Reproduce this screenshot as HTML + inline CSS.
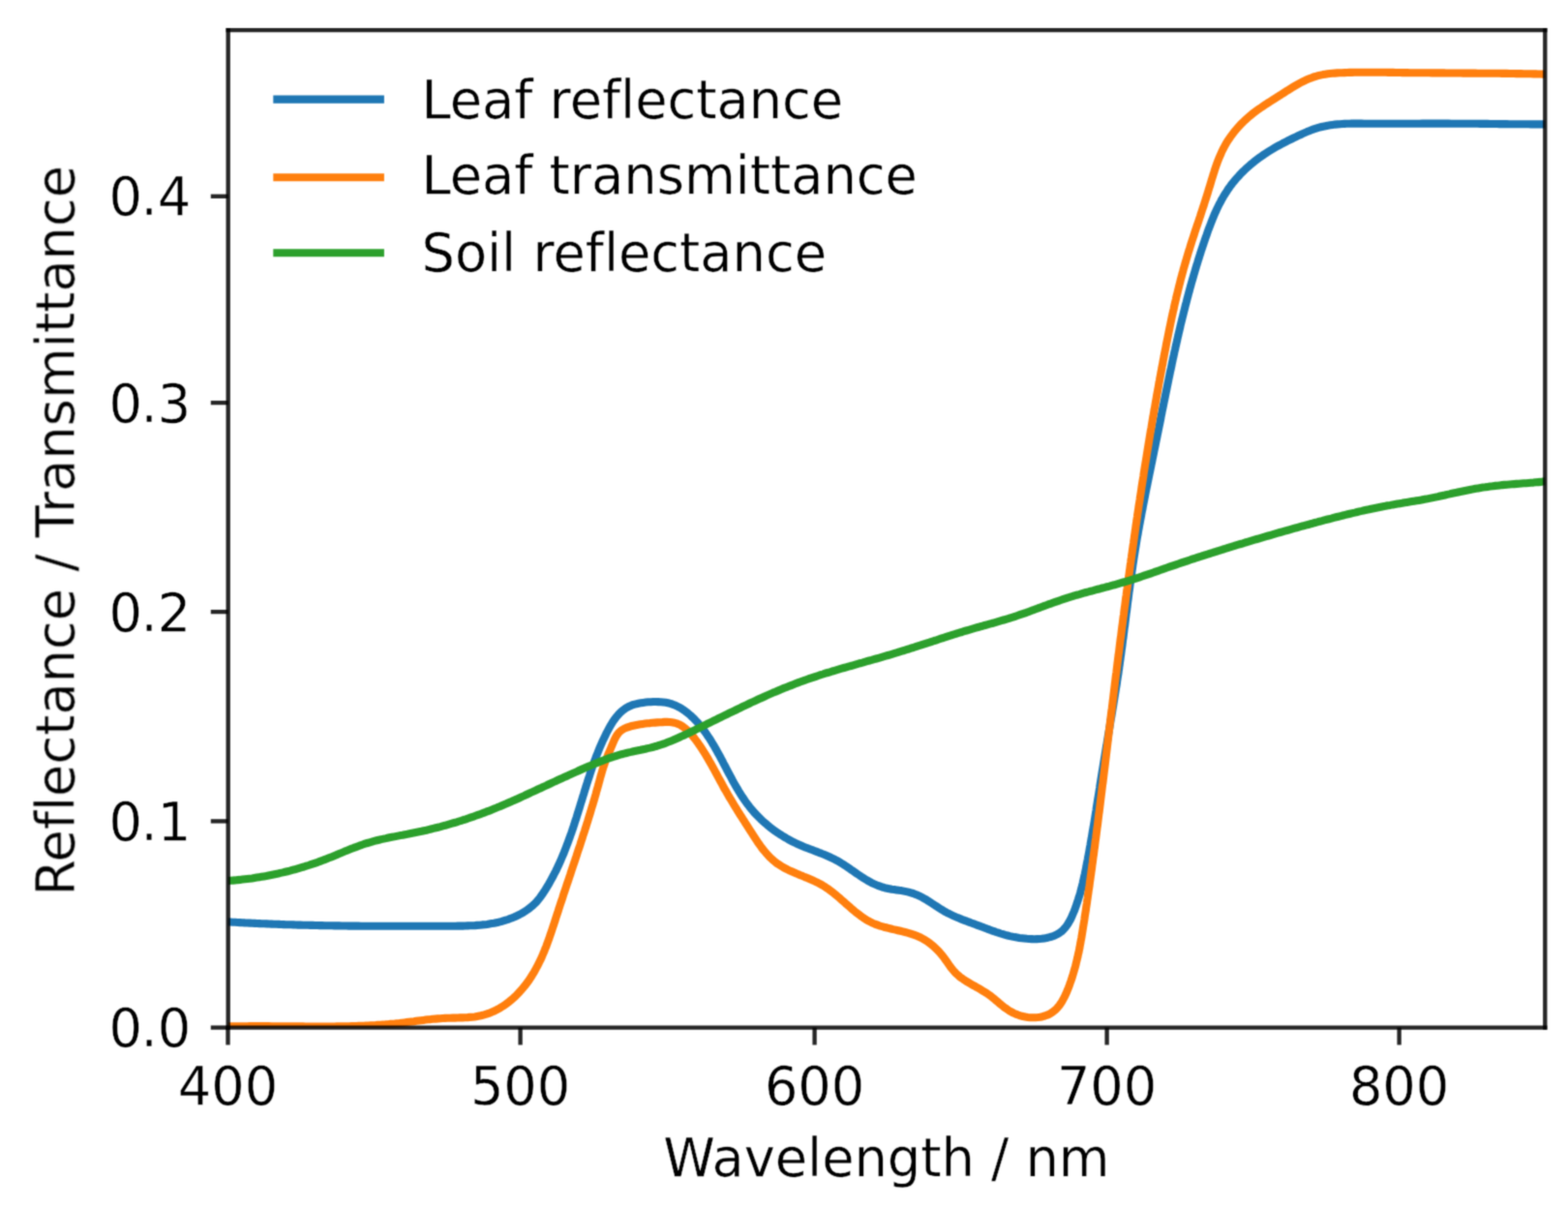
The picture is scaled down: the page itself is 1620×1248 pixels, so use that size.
<!DOCTYPE html>
<html><head><meta charset="utf-8"><title>Leaf and soil spectra</title>
<style>html,body{margin:0;padding:0;background:#fff;width:1620px;height:1248px;overflow:hidden}svg{display:block}text{font-family:'DejaVu Sans','Liberation Sans',sans-serif;font-variant-ligatures:none;font-feature-settings:'liga' 0,'clig' 0;font-kerning:normal}</style>
</head><body>
<svg width="1620" height="1248" viewBox="0 0 1620 1248"><defs><filter id="soft" x="0" y="0" width="1620" height="1248" filterUnits="userSpaceOnUse" color-interpolation-filters="sRGB"><feConvolveMatrix order="3" kernelMatrix="1 3 1 3 9 3 1 3 1" divisor="25" edgeMode="duplicate"/></filter></defs>
<rect width="1620" height="1248" fill="#fff"/>
<g filter="url(#soft)">
<clipPath id="ax"><rect x="235.7" y="31.1" width="1360.60" height="1030.50"/></clipPath>
<g clip-path="url(#ax)" fill="none" stroke-width="8.1" stroke-linejoin="round" stroke-linecap="butt">
<path d="M235.4 952.4 L237.9 952.5 L240.5 952.7 L243.0 952.8 L245.5 953.0 L248.0 953.1 L250.5 953.2 L253.0 953.4 L255.5 953.5 L258.0 953.6 L260.6 953.8 L263.1 953.9 L265.6 954.0 L268.1 954.1 L270.6 954.2 L273.1 954.3 L275.6 954.4 L278.1 954.5 L280.6 954.6 L283.1 954.7 L285.6 954.8 L288.1 954.9 L290.6 955.0 L293.1 955.1 L295.6 955.2 L298.1 955.3 L300.6 955.3 L303.0 955.4 L305.5 955.5 L308.0 955.6 L310.5 955.6 L313.0 955.7 L315.5 955.8 L318.0 955.8 L320.5 955.9 L323.0 955.9 L325.5 956.0 L328.0 956.0 L330.4 956.1 L332.9 956.1 L335.4 956.2 L337.9 956.2 L340.4 956.3 L342.9 956.3 L345.4 956.4 L347.9 956.4 L350.4 956.4 L352.9 956.5 L355.3 956.5 L357.8 956.5 L360.3 956.6 L362.8 956.6 L365.3 956.6 L367.8 956.6 L370.3 956.6 L372.8 956.7 L375.3 956.7 L377.8 956.7 L380.3 956.7 L382.7 956.7 L385.2 956.7 L387.7 956.8 L390.2 956.8 L392.7 956.8 L395.2 956.8 L397.7 956.8 L400.2 956.8 L402.7 956.8 L405.2 956.8 L407.7 956.8 L410.2 956.8 L412.7 956.8 L415.2 956.8 L417.7 956.8 L420.2 956.8 L422.7 956.8 L425.2 956.8 L427.7 956.8 L430.3 956.8 L432.8 956.8 L435.3 956.8 L437.8 956.8 L440.3 956.8 L442.8 956.8 L445.3 956.8 L447.9 956.7 L450.4 956.7 L452.9 956.7 L455.4 956.7 L457.9 956.7 L460.5 956.7 L463.0 956.7 L465.5 956.7 L468.0 956.7 L470.6 956.7 L473.1 956.6 L475.6 956.6 L478.2 956.6 L480.7 956.5 L483.2 956.4 L485.7 956.3 L488.2 956.2 L490.7 956.1 L493.2 955.9 L495.7 955.7 L498.2 955.4 L500.7 955.2 L503.1 954.9 L505.6 954.5 L508.0 954.1 L510.4 953.7 L512.9 953.2 L515.3 952.7 L517.6 952.1 L520.0 951.4 L522.4 950.7 L524.7 950.0 L527.0 949.1 L529.3 948.2 L531.6 947.3 L533.9 946.3 L536.1 945.1 L538.3 944.0 L540.5 942.7 L542.6 941.4 L544.7 940.0 L546.7 938.5 L548.7 936.9 L550.6 935.3 L552.4 933.6 L554.2 931.8 L555.8 929.9 L557.4 928.0 L558.9 925.9 L560.3 923.9 L561.7 921.8 L563.1 919.7 L564.4 917.6 L565.7 915.4 L567.0 913.3 L568.2 911.1 L569.4 908.9 L570.6 906.7 L571.8 904.5 L572.9 902.3 L574.1 900.1 L575.2 897.9 L576.2 895.6 L577.3 893.4 L578.3 891.1 L579.3 888.8 L580.3 886.5 L581.3 884.2 L582.3 881.9 L583.2 879.6 L584.1 877.3 L585.0 874.9 L585.9 872.6 L586.8 870.3 L587.6 867.9 L588.5 865.6 L589.3 863.2 L590.2 860.8 L591.0 858.5 L591.8 856.1 L592.6 853.7 L593.4 851.3 L594.1 848.9 L594.9 846.6 L595.7 844.2 L596.4 841.8 L597.2 839.4 L597.9 837.0 L598.7 834.6 L599.4 832.2 L600.1 829.8 L600.9 827.4 L601.6 825.0 L602.3 822.6 L603.1 820.2 L603.8 817.9 L604.5 815.5 L605.3 813.1 L606.0 810.7 L606.8 808.3 L607.5 806.0 L608.3 803.6 L609.1 801.2 L609.8 798.9 L610.6 796.5 L611.4 794.2 L612.2 791.8 L613.1 789.5 L613.9 787.1 L614.8 784.8 L615.6 782.5 L616.5 780.1 L617.5 777.8 L618.4 775.5 L619.3 773.2 L620.3 770.9 L621.3 768.6 L622.3 766.3 L623.4 764.0 L624.5 761.7 L625.6 759.4 L626.7 757.1 L627.9 754.9 L629.1 752.6 L630.3 750.4 L631.6 748.2 L632.9 746.1 L634.3 744.0 L635.8 742.0 L637.3 740.1 L638.9 738.3 L640.5 736.5 L642.3 734.9 L644.1 733.4 L646.0 732.0 L648.0 730.8 L650.1 729.7 L652.4 728.7 L654.7 727.9 L657.0 727.3 L659.5 726.7 L662.0 726.3 L664.5 725.9 L667.1 725.6 L669.7 725.3 L672.3 725.2 L675.0 725.0 L677.6 725.0 L680.2 725.1 L682.7 725.2 L685.3 725.5 L687.8 725.8 L690.2 726.3 L692.6 726.9 L694.9 727.7 L697.2 728.6 L699.4 729.5 L701.5 730.6 L703.6 731.8 L705.7 733.1 L707.7 734.5 L709.6 735.9 L711.5 737.5 L713.3 739.0 L715.1 740.7 L716.9 742.4 L718.6 744.2 L720.3 746.0 L721.9 747.8 L723.5 749.7 L725.1 751.7 L726.6 753.7 L728.1 755.7 L729.6 757.8 L731.0 759.9 L732.4 762.0 L733.8 764.1 L735.1 766.3 L736.4 768.5 L737.8 770.7 L739.0 772.9 L740.3 775.1 L741.5 777.4 L742.8 779.6 L744.0 781.8 L745.2 784.1 L746.4 786.3 L747.5 788.6 L748.7 790.8 L749.9 793.0 L751.0 795.3 L752.2 797.5 L753.4 799.7 L754.6 801.9 L755.8 804.2 L756.9 806.3 L758.1 808.5 L759.4 810.7 L760.6 812.9 L761.9 815.0 L763.1 817.1 L764.4 819.2 L765.7 821.3 L767.1 823.4 L768.5 825.4 L769.9 827.5 L771.3 829.5 L772.8 831.4 L774.3 833.4 L775.8 835.3 L777.4 837.2 L779.0 839.1 L780.7 840.9 L782.4 842.7 L784.1 844.4 L785.9 846.2 L787.7 847.9 L789.6 849.6 L791.5 851.2 L793.4 852.8 L795.3 854.4 L797.3 855.9 L799.3 857.4 L801.3 858.9 L803.4 860.3 L805.5 861.7 L807.6 863.0 L809.7 864.4 L811.9 865.6 L814.0 866.9 L816.2 868.1 L818.5 869.3 L820.7 870.4 L822.9 871.5 L825.2 872.5 L827.5 873.5 L829.8 874.5 L832.1 875.4 L834.4 876.3 L836.8 877.2 L839.1 878.1 L841.4 879.0 L843.8 879.9 L846.1 880.8 L848.4 881.6 L850.7 882.6 L853.0 883.5 L855.3 884.5 L857.5 885.5 L859.8 886.6 L862.0 887.7 L864.2 888.8 L866.4 890.1 L868.5 891.3 L870.7 892.7 L872.8 894.0 L874.9 895.4 L877.0 896.8 L879.0 898.3 L881.1 899.7 L883.2 901.1 L885.3 902.6 L887.4 904.0 L889.4 905.4 L891.5 906.7 L893.7 908.1 L895.8 909.4 L898.0 910.6 L900.1 911.8 L902.3 912.9 L904.6 913.9 L906.9 914.9 L909.2 915.7 L911.5 916.5 L913.9 917.2 L916.3 917.7 L918.8 918.2 L921.3 918.7 L923.8 919.0 L926.3 919.4 L928.8 919.8 L931.3 920.1 L933.8 920.6 L936.3 921.1 L938.7 921.6 L941.1 922.3 L943.5 923.0 L945.8 923.9 L948.1 924.8 L950.4 925.9 L952.6 927.0 L954.7 928.2 L956.9 929.4 L959.0 930.8 L961.1 932.1 L963.2 933.5 L965.3 934.9 L967.4 936.2 L969.5 937.6 L971.6 939.0 L973.8 940.3 L975.9 941.6 L978.1 942.8 L980.4 943.9 L982.6 945.0 L984.9 946.1 L987.2 947.1 L989.5 948.1 L991.8 949.0 L994.1 950.0 L996.5 950.9 L998.8 951.7 L1001.2 952.6 L1003.5 953.5 L1005.9 954.3 L1008.2 955.2 L1010.6 956.1 L1012.9 956.9 L1015.2 957.8 L1017.6 958.7 L1019.9 959.6 L1022.2 960.4 L1024.5 961.3 L1026.9 962.1 L1029.2 963.0 L1031.5 963.7 L1033.9 964.5 L1036.2 965.2 L1038.6 965.9 L1041.0 966.5 L1043.4 967.1 L1045.8 967.6 L1048.3 968.1 L1050.7 968.5 L1053.2 968.9 L1055.8 969.2 L1058.3 969.5 L1060.9 969.8 L1063.4 970.0 L1066.0 970.1 L1068.6 970.2 L1071.2 970.1 L1073.7 970.0 L1076.3 969.8 L1078.8 969.4 L1081.3 969.0 L1083.8 968.4 L1086.2 967.8 L1088.5 966.9 L1090.7 966.0 L1092.9 964.9 L1094.9 963.6 L1096.8 962.2 L1098.5 960.6 L1100.1 958.8 L1101.6 957.0 L1103.0 955.0 L1104.3 952.9 L1105.5 950.7 L1106.7 948.5 L1107.7 946.2 L1108.7 943.8 L1109.7 941.5 L1110.6 939.1 L1111.5 936.7 L1112.3 934.3 L1113.1 931.9 L1113.9 929.5 L1114.6 927.1 L1115.4 924.7 L1116.1 922.3 L1116.7 919.9 L1117.4 917.5 L1118.0 915.1 L1118.6 912.6 L1119.1 910.2 L1119.7 907.8 L1120.2 905.3 L1120.8 902.9 L1121.3 900.4 L1121.8 898.0 L1122.3 895.6 L1122.7 893.1 L1123.2 890.7 L1123.7 888.2 L1124.1 885.8 L1124.6 883.3 L1125.1 880.9 L1125.5 878.4 L1125.9 875.9 L1126.4 873.5 L1126.8 871.0 L1127.2 868.6 L1127.7 866.1 L1128.1 863.7 L1128.5 861.2 L1128.9 858.7 L1129.3 856.3 L1129.8 853.8 L1130.2 851.4 L1130.6 848.9 L1131.0 846.4 L1131.4 844.0 L1131.8 841.5 L1132.2 839.0 L1132.6 836.6 L1132.9 834.1 L1133.3 831.6 L1133.7 829.2 L1134.1 826.7 L1134.5 824.2 L1134.9 821.8 L1135.3 819.3 L1135.7 816.8 L1136.1 814.3 L1136.4 811.9 L1136.8 809.4 L1137.2 806.9 L1137.6 804.4 L1138.0 802.0 L1138.4 799.5 L1138.8 797.0 L1139.2 794.6 L1139.6 792.1 L1140.0 789.6 L1140.4 787.2 L1140.8 784.7 L1141.2 782.2 L1141.6 779.8 L1142.0 777.3 L1142.4 774.8 L1142.8 772.4 L1143.3 769.9 L1143.7 767.4 L1144.1 765.0 L1144.5 762.5 L1144.9 760.0 L1145.3 757.6 L1145.8 755.1 L1146.2 752.6 L1146.6 750.2 L1147.0 747.7 L1147.4 745.2 L1147.8 742.8 L1148.3 740.3 L1148.7 737.9 L1149.1 735.4 L1149.5 732.9 L1149.9 730.5 L1150.3 728.0 L1150.7 725.5 L1151.1 723.1 L1151.5 720.6 L1151.9 718.1 L1152.3 715.7 L1152.7 713.2 L1153.1 710.7 L1153.5 708.3 L1153.9 705.8 L1154.2 703.3 L1154.6 700.8 L1155.0 698.4 L1155.4 695.9 L1155.7 693.4 L1156.1 691.0 L1156.4 688.5 L1156.8 686.0 L1157.1 683.5 L1157.5 681.1 L1157.8 678.6 L1158.2 676.1 L1158.5 673.6 L1158.8 671.2 L1159.2 668.7 L1159.5 666.2 L1159.8 663.7 L1160.1 661.2 L1160.5 658.8 L1160.8 656.3 L1161.1 653.8 L1161.4 651.3 L1161.7 648.8 L1162.1 646.4 L1162.4 643.9 L1162.7 641.4 L1163.0 638.9 L1163.3 636.4 L1163.6 633.9 L1164.0 631.5 L1164.3 629.0 L1164.6 626.5 L1164.9 624.0 L1165.2 621.5 L1165.6 619.1 L1165.9 616.6 L1166.2 614.1 L1166.5 611.6 L1166.9 609.1 L1167.2 606.7 L1167.5 604.2 L1167.9 601.7 L1168.2 599.2 L1168.6 596.8 L1168.9 594.3 L1169.3 591.8 L1169.6 589.3 L1170.0 586.9 L1170.3 584.4 L1170.7 581.9 L1171.1 579.4 L1171.4 577.0 L1171.8 574.5 L1172.2 572.0 L1172.6 569.6 L1173.0 567.1 L1173.4 564.6 L1173.8 562.2 L1174.2 559.7 L1174.6 557.2 L1175.0 554.8 L1175.5 552.3 L1175.9 549.8 L1176.3 547.4 L1176.8 544.9 L1177.2 542.5 L1177.7 540.0 L1178.1 537.6 L1178.6 535.1 L1179.1 532.6 L1179.5 530.2 L1180.0 527.7 L1180.5 525.3 L1180.9 522.8 L1181.4 520.4 L1181.9 517.9 L1182.4 515.5 L1182.9 513.0 L1183.3 510.6 L1183.8 508.1 L1184.3 505.7 L1184.8 503.2 L1185.3 500.8 L1185.8 498.3 L1186.3 495.9 L1186.8 493.4 L1187.3 491.0 L1187.8 488.5 L1188.3 486.1 L1188.8 483.6 L1189.3 481.2 L1189.8 478.7 L1190.3 476.3 L1190.8 473.8 L1191.3 471.4 L1191.8 468.9 L1192.3 466.5 L1192.8 464.0 L1193.3 461.6 L1193.8 459.1 L1194.3 456.7 L1194.8 454.2 L1195.3 451.8 L1195.8 449.3 L1196.3 446.9 L1196.8 444.4 L1197.3 442.0 L1197.8 439.5 L1198.3 437.1 L1198.8 434.6 L1199.3 432.2 L1199.7 429.7 L1200.2 427.3 L1200.7 424.8 L1201.2 422.4 L1201.7 419.9 L1202.2 417.5 L1202.7 415.0 L1203.2 412.6 L1203.7 410.1 L1204.2 407.7 L1204.7 405.2 L1205.2 402.8 L1205.7 400.3 L1206.2 397.9 L1206.7 395.4 L1207.2 393.0 L1207.7 390.5 L1208.2 388.1 L1208.7 385.6 L1209.2 383.2 L1209.8 380.7 L1210.3 378.3 L1210.8 375.8 L1211.3 373.4 L1211.8 371.0 L1212.4 368.5 L1212.9 366.1 L1213.4 363.6 L1214.0 361.2 L1214.5 358.8 L1215.1 356.3 L1215.6 353.9 L1216.2 351.5 L1216.7 349.0 L1217.3 346.6 L1217.8 344.2 L1218.4 341.7 L1219.0 339.3 L1219.5 336.9 L1220.1 334.4 L1220.7 332.0 L1221.3 329.6 L1221.9 327.1 L1222.5 324.7 L1223.1 322.3 L1223.7 319.9 L1224.3 317.5 L1224.9 315.0 L1225.6 312.6 L1226.2 310.2 L1226.8 307.8 L1227.5 305.4 L1228.1 302.9 L1228.8 300.5 L1229.4 298.1 L1230.1 295.7 L1230.7 293.3 L1231.4 290.9 L1232.1 288.5 L1232.8 286.1 L1233.5 283.7 L1234.2 281.3 L1234.9 278.9 L1235.6 276.5 L1236.3 274.1 L1237.1 271.7 L1237.8 269.3 L1238.6 266.9 L1239.3 264.5 L1240.1 262.1 L1240.8 259.8 L1241.6 257.4 L1242.4 255.0 L1243.2 252.6 L1244.0 250.2 L1244.8 247.9 L1245.6 245.5 L1246.5 243.1 L1247.3 240.7 L1248.1 238.4 L1249.0 236.0 L1249.9 233.7 L1250.8 231.3 L1251.7 229.0 L1252.6 226.7 L1253.6 224.4 L1254.5 222.0 L1255.5 219.8 L1256.6 217.5 L1257.6 215.2 L1258.7 213.0 L1259.8 210.8 L1261.0 208.6 L1262.1 206.4 L1263.4 204.2 L1264.6 202.1 L1265.9 200.0 L1267.3 197.9 L1268.6 195.8 L1270.1 193.8 L1271.5 191.8 L1273.0 189.8 L1274.6 187.8 L1276.2 185.9 L1277.8 184.0 L1279.5 182.2 L1281.2 180.3 L1282.9 178.5 L1284.7 176.8 L1286.5 175.0 L1288.4 173.3 L1290.2 171.7 L1292.1 170.0 L1294.1 168.4 L1296.0 166.8 L1298.0 165.3 L1300.0 163.8 L1302.0 162.3 L1304.1 160.9 L1306.2 159.4 L1308.2 158.1 L1310.4 156.7 L1312.5 155.4 L1314.6 154.1 L1316.8 152.8 L1318.9 151.6 L1321.1 150.4 L1323.3 149.2 L1325.5 148.0 L1327.8 146.9 L1330.0 145.7 L1332.2 144.6 L1334.5 143.5 L1336.7 142.4 L1339.0 141.3 L1341.3 140.2 L1343.5 139.2 L1345.8 138.1 L1348.1 137.1 L1350.4 136.1 L1352.7 135.2 L1355.0 134.3 L1357.4 133.4 L1359.8 132.6 L1362.1 131.9 L1364.5 131.3 L1366.9 130.7 L1369.4 130.2 L1371.8 129.7 L1374.3 129.3 L1376.7 128.9 L1379.2 128.6 L1381.7 128.4 L1384.2 128.2 L1386.7 128.0 L1389.2 127.9 L1391.7 127.8 L1394.2 127.7 L1396.7 127.6 L1399.2 127.6 L1401.7 127.6 L1404.2 127.6 L1406.7 127.6 L1409.2 127.7 L1411.7 127.7 L1414.2 127.7 L1416.7 127.8 L1419.2 127.8 L1421.7 127.8 L1424.2 127.8 L1426.7 127.8 L1429.2 127.8 L1431.7 127.8 L1434.2 127.8 L1436.7 127.8 L1439.2 127.8 L1441.7 127.8 L1444.2 127.8 L1446.7 127.8 L1449.2 127.8 L1451.7 127.8 L1454.2 127.7 L1456.7 127.7 L1459.2 127.7 L1461.7 127.7 L1464.2 127.7 L1466.7 127.7 L1469.2 127.6 L1471.7 127.6 L1474.2 127.6 L1476.7 127.6 L1479.2 127.6 L1481.7 127.6 L1484.2 127.6 L1486.7 127.6 L1489.2 127.6 L1491.7 127.6 L1494.2 127.6 L1496.7 127.6 L1499.2 127.7 L1501.7 127.7 L1504.2 127.7 L1506.7 127.7 L1509.2 127.7 L1511.7 127.7 L1514.2 127.7 L1516.7 127.8 L1519.2 127.8 L1521.7 127.8 L1524.2 127.8 L1526.7 127.8 L1529.2 127.9 L1531.7 127.9 L1534.2 127.9 L1536.7 127.9 L1539.2 128.0 L1541.7 128.0 L1544.2 128.0 L1546.7 128.0 L1549.2 128.1 L1551.7 128.1 L1554.2 128.1 L1556.7 128.1 L1559.2 128.2 L1561.7 128.2 L1564.2 128.2 L1566.7 128.2 L1569.2 128.2 L1571.7 128.3 L1574.2 128.3 L1576.7 128.3 L1579.2 128.3 L1581.7 128.4 L1584.2 128.4 L1586.7 128.4 L1589.2 128.4 L1591.7 128.4 L1594.2 128.4 L1596.7 128.5" stroke="#1f77b4"/>
<path d="M235.5 1060.5 L238.0 1060.4 L240.5 1060.4 L243.0 1060.3 L245.4 1060.3 L247.9 1060.2 L250.4 1060.2 L252.9 1060.2 L255.4 1060.2 L257.9 1060.1 L260.4 1060.1 L262.9 1060.1 L265.4 1060.1 L267.9 1060.1 L270.4 1060.1 L272.9 1060.1 L275.4 1060.1 L277.9 1060.1 L280.4 1060.2 L282.9 1060.2 L285.4 1060.2 L287.9 1060.2 L290.4 1060.2 L292.9 1060.3 L295.4 1060.3 L297.9 1060.3 L300.4 1060.3 L302.9 1060.4 L305.4 1060.4 L308.0 1060.4 L310.5 1060.4 L313.0 1060.4 L315.5 1060.5 L318.0 1060.5 L320.5 1060.5 L323.0 1060.5 L325.5 1060.5 L328.0 1060.5 L330.5 1060.5 L333.1 1060.5 L335.6 1060.5 L338.1 1060.5 L340.6 1060.5 L343.1 1060.5 L345.6 1060.5 L348.1 1060.4 L350.6 1060.4 L353.1 1060.4 L355.6 1060.3 L358.1 1060.3 L360.6 1060.2 L363.1 1060.1 L365.6 1060.1 L368.1 1060.0 L370.6 1059.9 L373.1 1059.8 L375.6 1059.7 L378.1 1059.6 L380.6 1059.5 L383.1 1059.3 L385.6 1059.2 L388.1 1059.1 L390.5 1058.9 L393.0 1058.7 L395.5 1058.5 L398.0 1058.4 L400.5 1058.2 L402.9 1057.9 L405.4 1057.7 L407.9 1057.5 L410.4 1057.2 L412.8 1057.0 L415.3 1056.7 L417.8 1056.4 L420.2 1056.1 L422.7 1055.8 L425.1 1055.5 L427.6 1055.2 L430.1 1054.8 L432.5 1054.5 L435.0 1054.2 L437.5 1053.9 L439.9 1053.6 L442.4 1053.3 L444.9 1053.1 L447.4 1052.8 L449.9 1052.6 L452.4 1052.4 L454.9 1052.2 L457.4 1052.0 L460.0 1051.9 L462.5 1051.8 L465.1 1051.7 L467.6 1051.6 L470.2 1051.6 L472.8 1051.5 L475.3 1051.4 L477.9 1051.4 L480.4 1051.2 L483.0 1051.1 L485.5 1050.9 L488.0 1050.7 L490.5 1050.4 L493.0 1050.0 L495.4 1049.6 L497.8 1049.0 L500.2 1048.4 L502.6 1047.7 L504.9 1046.9 L507.2 1046.0 L509.4 1045.1 L511.7 1044.0 L513.8 1042.9 L516.0 1041.7 L518.1 1040.4 L520.2 1039.1 L522.2 1037.7 L524.2 1036.2 L526.2 1034.7 L528.1 1033.1 L530.0 1031.5 L531.9 1029.8 L533.7 1028.0 L535.4 1026.2 L537.1 1024.4 L538.8 1022.5 L540.4 1020.6 L542.0 1018.7 L543.5 1016.7 L545.0 1014.7 L546.5 1012.7 L547.9 1010.6 L549.2 1008.5 L550.5 1006.4 L551.8 1004.3 L553.0 1002.1 L554.2 999.9 L555.4 997.8 L556.5 995.5 L557.6 993.3 L558.7 991.1 L559.7 988.8 L560.7 986.5 L561.7 984.2 L562.6 981.9 L563.5 979.6 L564.5 977.3 L565.3 974.9 L566.2 972.6 L567.1 970.2 L567.9 967.8 L568.7 965.4 L569.5 963.1 L570.3 960.7 L571.1 958.3 L571.9 955.9 L572.7 953.5 L573.5 951.1 L574.2 948.7 L575.0 946.3 L575.8 943.9 L576.6 941.5 L577.3 939.1 L578.1 936.7 L578.9 934.3 L579.7 931.9 L580.5 929.6 L581.3 927.2 L582.0 924.8 L582.8 922.4 L583.6 920.1 L584.4 917.7 L585.2 915.3 L586.0 912.9 L586.8 910.6 L587.6 908.2 L588.4 905.8 L589.2 903.5 L589.9 901.1 L590.7 898.7 L591.5 896.4 L592.3 894.0 L593.1 891.6 L593.9 889.3 L594.7 886.9 L595.5 884.5 L596.2 882.2 L597.0 879.8 L597.8 877.4 L598.6 875.1 L599.4 872.7 L600.1 870.4 L600.9 868.0 L601.7 865.6 L602.4 863.2 L603.2 860.9 L604.0 858.5 L604.7 856.1 L605.5 853.8 L606.2 851.4 L607.0 849.0 L607.7 846.6 L608.4 844.3 L609.2 841.9 L609.9 839.5 L610.6 837.1 L611.3 834.7 L612.1 832.3 L612.8 829.9 L613.5 827.5 L614.2 825.1 L614.9 822.7 L615.6 820.3 L616.2 817.9 L616.9 815.5 L617.6 813.1 L618.3 810.7 L618.9 808.3 L619.6 805.9 L620.2 803.4 L620.9 801.0 L621.6 798.6 L622.3 796.2 L623.0 793.8 L623.8 791.4 L624.6 789.1 L625.4 786.7 L626.3 784.3 L627.3 782.0 L628.2 779.7 L629.2 777.4 L630.2 775.1 L631.2 772.7 L632.2 770.4 L633.2 768.0 L634.2 765.6 L635.3 763.3 L636.4 761.1 L637.7 759.0 L639.1 757.2 L640.8 755.5 L642.7 754.1 L644.7 752.9 L646.9 751.9 L649.2 751.1 L651.6 750.3 L654.1 749.7 L656.5 749.2 L659.0 748.7 L661.5 748.3 L664.0 747.9 L666.5 747.6 L669.0 747.3 L671.5 747.1 L674.0 746.8 L676.5 746.6 L679.1 746.4 L681.6 746.2 L684.2 746.1 L686.8 745.9 L689.3 745.9 L691.8 746.0 L694.2 746.3 L696.6 746.7 L698.9 747.3 L701.1 748.2 L703.2 749.2 L705.3 750.5 L707.2 751.9 L709.1 753.5 L710.9 755.2 L712.7 757.0 L714.4 758.9 L716.0 760.9 L717.6 762.9 L719.1 764.9 L720.7 767.0 L722.1 769.1 L723.6 771.2 L725.0 773.3 L726.3 775.4 L727.7 777.6 L729.0 779.7 L730.3 781.9 L731.6 784.0 L732.8 786.2 L734.1 788.4 L735.3 790.5 L736.5 792.7 L737.7 794.9 L738.9 797.1 L740.1 799.3 L741.2 801.4 L742.4 803.6 L743.6 805.8 L744.8 808.0 L746.0 810.1 L747.1 812.3 L748.3 814.5 L749.6 816.6 L750.8 818.7 L752.0 820.9 L753.2 823.0 L754.5 825.1 L755.8 827.2 L757.0 829.3 L758.3 831.5 L759.6 833.6 L760.9 835.7 L762.2 837.8 L763.5 839.9 L764.8 842.0 L766.2 844.1 L767.5 846.2 L768.9 848.3 L770.2 850.5 L771.6 852.6 L772.9 854.7 L774.3 856.9 L775.7 859.0 L777.1 861.2 L778.5 863.4 L779.9 865.5 L781.3 867.7 L782.7 869.8 L784.2 871.9 L785.7 874.0 L787.2 876.1 L788.8 878.1 L790.4 880.0 L792.0 881.9 L793.7 883.8 L795.4 885.6 L797.2 887.3 L799.0 888.9 L800.9 890.5 L802.8 892.0 L804.9 893.3 L806.9 894.6 L809.0 895.9 L811.2 897.1 L813.3 898.2 L815.6 899.3 L817.8 900.3 L820.1 901.3 L822.4 902.3 L824.7 903.2 L827.0 904.2 L829.3 905.1 L831.6 906.1 L834.0 907.0 L836.3 908.0 L838.6 909.0 L840.9 910.0 L843.1 911.1 L845.4 912.2 L847.6 913.4 L849.8 914.6 L851.9 915.9 L854.0 917.3 L856.1 918.7 L858.1 920.2 L860.1 921.7 L862.1 923.3 L864.0 924.9 L865.9 926.5 L867.9 928.2 L869.8 929.9 L871.7 931.6 L873.6 933.3 L875.5 934.9 L877.4 936.6 L879.3 938.3 L881.2 939.9 L883.1 941.5 L885.0 943.1 L887.0 944.6 L889.0 946.1 L891.0 947.5 L893.0 948.9 L895.1 950.2 L897.2 951.4 L899.3 952.5 L901.5 953.6 L903.8 954.6 L906.0 955.4 L908.4 956.3 L910.7 957.0 L913.1 957.7 L915.5 958.3 L917.9 958.9 L920.4 959.5 L922.8 960.1 L925.3 960.6 L927.7 961.2 L930.2 961.8 L932.6 962.4 L935.1 963.0 L937.5 963.6 L939.9 964.3 L942.3 965.1 L944.6 965.9 L947.0 966.8 L949.3 967.8 L951.5 968.8 L953.7 970.0 L955.9 971.3 L958.0 972.6 L960.0 974.0 L962.0 975.6 L963.9 977.2 L965.8 978.8 L967.6 980.6 L969.4 982.4 L971.1 984.2 L972.7 986.2 L974.3 988.1 L975.8 990.1 L977.2 992.1 L978.7 994.2 L980.1 996.2 L981.5 998.2 L983.0 1000.2 L984.5 1002.1 L986.1 1003.9 L987.8 1005.7 L989.6 1007.3 L991.4 1008.9 L993.4 1010.4 L995.4 1011.8 L997.5 1013.2 L999.6 1014.5 L1001.8 1015.8 L1003.9 1017.1 L1006.2 1018.3 L1008.4 1019.6 L1010.6 1020.8 L1012.8 1022.1 L1015.0 1023.4 L1017.2 1024.7 L1019.3 1026.0 L1021.4 1027.5 L1023.4 1028.9 L1025.3 1030.5 L1027.3 1032.0 L1029.1 1033.6 L1031.0 1035.2 L1032.9 1036.8 L1034.8 1038.4 L1036.7 1039.9 L1038.7 1041.4 L1040.7 1042.8 L1042.7 1044.2 L1044.9 1045.4 L1047.1 1046.6 L1049.4 1047.6 L1051.8 1048.5 L1054.2 1049.3 L1056.8 1050.0 L1059.3 1050.5 L1061.9 1050.9 L1064.5 1051.2 L1067.1 1051.3 L1069.7 1051.2 L1072.3 1051.0 L1074.8 1050.7 L1077.2 1050.2 L1079.6 1049.5 L1081.9 1048.7 L1084.1 1047.7 L1086.1 1046.5 L1088.1 1045.2 L1089.9 1043.7 L1091.6 1042.1 L1093.2 1040.3 L1094.7 1038.4 L1096.1 1036.4 L1097.4 1034.3 L1098.6 1032.1 L1099.8 1029.9 L1100.9 1027.6 L1101.9 1025.3 L1102.9 1022.9 L1103.9 1020.5 L1104.8 1018.1 L1105.6 1015.7 L1106.5 1013.3 L1107.3 1010.9 L1108.1 1008.5 L1108.8 1006.0 L1109.5 1003.6 L1110.2 1001.2 L1110.9 998.8 L1111.5 996.4 L1112.1 993.9 L1112.7 991.5 L1113.3 989.1 L1113.8 986.6 L1114.4 984.2 L1114.9 981.7 L1115.4 979.3 L1115.8 976.8 L1116.3 974.4 L1116.7 971.9 L1117.2 969.5 L1117.6 967.0 L1118.0 964.6 L1118.4 962.1 L1118.8 959.7 L1119.2 957.2 L1119.6 954.7 L1120.0 952.3 L1120.4 949.8 L1120.7 947.4 L1121.1 944.9 L1121.5 942.4 L1121.9 940.0 L1122.2 937.5 L1122.6 935.0 L1123.0 932.6 L1123.3 930.1 L1123.7 927.6 L1124.0 925.2 L1124.4 922.7 L1124.7 920.2 L1125.1 917.8 L1125.5 915.3 L1125.8 912.8 L1126.1 910.4 L1126.5 907.9 L1126.8 905.4 L1127.2 903.0 L1127.5 900.5 L1127.9 898.0 L1128.2 895.5 L1128.5 893.1 L1128.9 890.6 L1129.2 888.1 L1129.5 885.6 L1129.9 883.2 L1130.2 880.7 L1130.5 878.2 L1130.9 875.7 L1131.2 873.3 L1131.5 870.8 L1131.8 868.3 L1132.2 865.8 L1132.5 863.3 L1132.8 860.9 L1133.1 858.4 L1133.4 855.9 L1133.8 853.4 L1134.1 850.9 L1134.4 848.5 L1134.7 846.0 L1135.0 843.5 L1135.3 841.0 L1135.7 838.5 L1136.0 836.1 L1136.3 833.6 L1136.6 831.1 L1136.9 828.6 L1137.2 826.1 L1137.5 823.6 L1137.8 821.2 L1138.1 818.7 L1138.4 816.2 L1138.7 813.7 L1139.0 811.2 L1139.4 808.8 L1139.7 806.3 L1140.0 803.8 L1140.3 801.3 L1140.6 798.8 L1140.9 796.3 L1141.2 793.9 L1141.5 791.4 L1141.8 788.9 L1142.1 786.4 L1142.4 783.9 L1142.7 781.4 L1143.0 779.0 L1143.3 776.5 L1143.6 774.0 L1143.9 771.5 L1144.2 769.0 L1144.5 766.5 L1144.8 764.1 L1145.1 761.6 L1145.4 759.1 L1145.7 756.6 L1146.0 754.1 L1146.3 751.6 L1146.6 749.2 L1146.9 746.7 L1147.2 744.2 L1147.5 741.7 L1147.8 739.2 L1148.1 736.7 L1148.4 734.3 L1148.8 731.8 L1149.1 729.3 L1149.4 726.8 L1149.7 724.3 L1150.0 721.9 L1150.3 719.4 L1150.6 716.9 L1150.9 714.4 L1151.2 711.9 L1151.5 709.5 L1151.8 707.0 L1152.1 704.5 L1152.4 702.0 L1152.7 699.5 L1153.0 697.0 L1153.4 694.6 L1153.7 692.1 L1154.0 689.6 L1154.3 687.1 L1154.6 684.6 L1154.9 682.2 L1155.2 679.7 L1155.5 677.2 L1155.9 674.7 L1156.2 672.3 L1156.5 669.8 L1156.8 667.3 L1157.1 664.8 L1157.4 662.3 L1157.7 659.9 L1158.1 657.4 L1158.4 654.9 L1158.7 652.4 L1159.0 649.9 L1159.3 647.5 L1159.7 645.0 L1160.0 642.5 L1160.3 640.0 L1160.6 637.6 L1161.0 635.1 L1161.3 632.6 L1161.6 630.1 L1161.9 627.6 L1162.3 625.2 L1162.6 622.7 L1162.9 620.2 L1163.2 617.7 L1163.6 615.3 L1163.9 612.8 L1164.2 610.3 L1164.6 607.8 L1164.9 605.4 L1165.2 602.9 L1165.6 600.4 L1165.9 597.9 L1166.2 595.4 L1166.6 593.0 L1166.9 590.5 L1167.3 588.0 L1167.6 585.5 L1167.9 583.1 L1168.3 580.6 L1168.6 578.1 L1169.0 575.6 L1169.3 573.2 L1169.7 570.7 L1170.0 568.2 L1170.4 565.7 L1170.7 563.3 L1171.1 560.8 L1171.4 558.3 L1171.8 555.9 L1172.1 553.4 L1172.5 550.9 L1172.8 548.4 L1173.2 546.0 L1173.5 543.5 L1173.9 541.0 L1174.3 538.5 L1174.6 536.1 L1175.0 533.6 L1175.3 531.1 L1175.7 528.7 L1176.1 526.2 L1176.4 523.7 L1176.8 521.2 L1177.2 518.8 L1177.6 516.3 L1177.9 513.8 L1178.3 511.4 L1178.7 508.9 L1179.1 506.4 L1179.4 503.9 L1179.8 501.5 L1180.2 499.0 L1180.6 496.5 L1181.0 494.1 L1181.4 491.6 L1181.7 489.1 L1182.1 486.7 L1182.5 484.2 L1182.9 481.7 L1183.3 479.2 L1183.7 476.8 L1184.1 474.3 L1184.5 471.8 L1184.9 469.4 L1185.3 466.9 L1185.7 464.4 L1186.1 462.0 L1186.5 459.5 L1186.9 457.0 L1187.3 454.6 L1187.7 452.1 L1188.1 449.6 L1188.5 447.2 L1188.9 444.7 L1189.4 442.2 L1189.8 439.8 L1190.2 437.3 L1190.6 434.8 L1191.0 432.4 L1191.5 429.9 L1191.9 427.5 L1192.3 425.0 L1192.7 422.5 L1193.2 420.1 L1193.6 417.6 L1194.0 415.1 L1194.5 412.7 L1194.9 410.2 L1195.3 407.7 L1195.8 405.3 L1196.2 402.8 L1196.7 400.4 L1197.1 397.9 L1197.5 395.4 L1198.0 393.0 L1198.4 390.5 L1198.9 388.1 L1199.3 385.6 L1199.8 383.1 L1200.3 380.7 L1200.7 378.2 L1201.2 375.8 L1201.6 373.3 L1202.1 370.8 L1202.6 368.4 L1203.0 365.9 L1203.5 363.5 L1204.0 361.0 L1204.5 358.6 L1204.9 356.1 L1205.4 353.7 L1205.9 351.2 L1206.4 348.7 L1206.9 346.3 L1207.4 343.8 L1207.9 341.4 L1208.4 338.9 L1208.9 336.5 L1209.4 334.0 L1209.9 331.6 L1210.4 329.2 L1210.9 326.7 L1211.5 324.3 L1212.0 321.8 L1212.6 319.4 L1213.1 316.9 L1213.6 314.5 L1214.2 312.1 L1214.8 309.6 L1215.3 307.2 L1215.9 304.8 L1216.5 302.4 L1217.1 299.9 L1217.7 297.5 L1218.3 295.1 L1218.9 292.7 L1219.5 290.2 L1220.1 287.8 L1220.8 285.4 L1221.4 283.0 L1222.1 280.6 L1222.7 278.2 L1223.4 275.8 L1224.1 273.4 L1224.8 271.0 L1225.5 268.6 L1226.2 266.2 L1226.9 263.8 L1227.6 261.4 L1228.3 259.1 L1229.1 256.7 L1229.8 254.3 L1230.6 251.9 L1231.3 249.5 L1232.1 247.2 L1232.9 244.8 L1233.7 242.4 L1234.4 240.0 L1235.2 237.7 L1236.0 235.3 L1236.8 232.9 L1237.6 230.6 L1238.4 228.2 L1239.2 225.8 L1240.0 223.5 L1240.7 221.1 L1241.5 218.7 L1242.3 216.3 L1243.1 213.9 L1243.9 211.6 L1244.6 209.2 L1245.4 206.8 L1246.2 204.4 L1246.9 202.0 L1247.7 199.6 L1248.4 197.2 L1249.1 194.8 L1249.9 192.4 L1250.6 190.0 L1251.3 187.6 L1252.0 185.2 L1252.8 182.8 L1253.5 180.4 L1254.3 178.0 L1255.0 175.6 L1255.8 173.2 L1256.6 170.9 L1257.5 168.5 L1258.3 166.2 L1259.2 163.9 L1260.2 161.6 L1261.2 159.3 L1262.2 157.0 L1263.3 154.8 L1264.4 152.6 L1265.6 150.4 L1266.8 148.2 L1268.1 146.1 L1269.5 144.0 L1270.9 141.9 L1272.4 139.9 L1273.9 137.9 L1275.4 135.9 L1277.0 134.0 L1278.6 132.1 L1280.3 130.2 L1282.0 128.4 L1283.8 126.6 L1285.6 124.9 L1287.4 123.2 L1289.3 121.5 L1291.2 119.9 L1293.1 118.3 L1295.0 116.8 L1297.0 115.3 L1299.0 113.8 L1301.0 112.4 L1303.1 111.0 L1305.1 109.6 L1307.2 108.2 L1309.3 106.8 L1311.4 105.5 L1313.5 104.1 L1315.6 102.8 L1317.7 101.4 L1319.9 100.1 L1322.0 98.7 L1324.1 97.4 L1326.3 96.0 L1328.4 94.6 L1330.6 93.3 L1332.7 91.9 L1334.9 90.6 L1337.0 89.3 L1339.2 88.0 L1341.4 86.7 L1343.6 85.5 L1345.8 84.4 L1348.0 83.3 L1350.3 82.2 L1352.6 81.3 L1354.9 80.4 L1357.2 79.5 L1359.6 78.8 L1361.9 78.2 L1364.3 77.6 L1366.8 77.1 L1369.2 76.7 L1371.7 76.3 L1374.1 76.0 L1376.6 75.8 L1379.1 75.6 L1381.6 75.4 L1384.2 75.3 L1386.7 75.2 L1389.2 75.1 L1391.7 75.0 L1394.2 74.9 L1396.7 74.9 L1399.2 74.8 L1401.8 74.8 L1404.3 74.8 L1406.8 74.7 L1409.3 74.7 L1411.8 74.7 L1414.3 74.7 L1416.8 74.7 L1419.3 74.7 L1421.8 74.7 L1424.3 74.8 L1426.8 74.8 L1429.3 74.8 L1431.8 74.8 L1434.3 74.9 L1436.7 74.9 L1439.2 74.9 L1441.7 75.0 L1444.2 75.0 L1446.7 75.0 L1449.2 75.1 L1451.7 75.1 L1454.2 75.1 L1456.7 75.2 L1459.2 75.2 L1461.7 75.2 L1464.2 75.2 L1466.7 75.3 L1469.2 75.3 L1471.7 75.3 L1474.2 75.3 L1476.7 75.3 L1479.2 75.4 L1481.7 75.4 L1484.2 75.4 L1486.7 75.4 L1489.2 75.4 L1491.7 75.4 L1494.2 75.5 L1496.7 75.5 L1499.2 75.5 L1501.7 75.5 L1504.2 75.5 L1506.7 75.5 L1509.2 75.5 L1511.7 75.6 L1514.2 75.6 L1516.7 75.6 L1519.2 75.6 L1521.7 75.6 L1524.2 75.6 L1526.7 75.7 L1529.2 75.7 L1531.7 75.7 L1534.2 75.7 L1536.7 75.7 L1539.2 75.7 L1541.7 75.8 L1544.2 75.8 L1546.7 75.8 L1549.2 75.8 L1551.7 75.9 L1554.2 75.9 L1556.7 75.9 L1559.2 76.0 L1561.7 76.0 L1564.2 76.0 L1566.7 76.1 L1569.2 76.1 L1571.7 76.1 L1574.2 76.2 L1576.7 76.2 L1579.2 76.3 L1581.7 76.3 L1584.2 76.4 L1586.7 76.4 L1589.2 76.5 L1591.7 76.5 L1594.2 76.6 L1596.7 76.7" stroke="#ff7f0e"/>
<path d="M235.5 910.0 L238.0 909.8 L240.5 909.6 L243.0 909.4 L245.5 909.1 L247.9 908.9 L250.4 908.6 L252.9 908.3 L255.4 908.0 L257.8 907.7 L260.3 907.4 L262.8 907.0 L265.3 906.6 L267.7 906.2 L270.2 905.8 L272.6 905.4 L275.1 905.0 L277.6 904.5 L280.0 904.0 L282.5 903.5 L284.9 903.0 L287.4 902.5 L289.8 901.9 L292.2 901.4 L294.7 900.8 L297.1 900.2 L299.5 899.6 L301.9 898.9 L304.4 898.3 L306.8 897.6 L309.2 896.9 L311.6 896.2 L314.0 895.5 L316.4 894.7 L318.7 894.0 L321.1 893.2 L323.5 892.4 L325.9 891.6 L328.2 890.8 L330.6 889.9 L332.9 889.0 L335.3 888.1 L337.6 887.2 L339.9 886.3 L342.2 885.4 L344.6 884.4 L346.9 883.5 L349.2 882.5 L351.5 881.6 L353.8 880.6 L356.1 879.6 L358.4 878.7 L360.7 877.8 L363.1 876.8 L365.4 875.9 L367.7 875.1 L370.1 874.2 L372.4 873.3 L374.8 872.5 L377.1 871.7 L379.5 871.0 L381.9 870.3 L384.3 869.6 L386.7 868.9 L389.1 868.3 L391.5 867.7 L393.9 867.1 L396.3 866.6 L398.8 866.1 L401.2 865.5 L403.7 865.0 L406.1 864.6 L408.6 864.1 L411.0 863.6 L413.5 863.1 L415.9 862.7 L418.4 862.2 L420.9 861.8 L423.3 861.3 L425.8 860.8 L428.2 860.3 L430.7 859.8 L433.1 859.3 L435.6 858.8 L438.0 858.2 L440.5 857.7 L442.9 857.1 L445.3 856.5 L447.7 855.9 L450.2 855.3 L452.6 854.7 L455.0 854.1 L457.4 853.4 L459.8 852.8 L462.2 852.1 L464.6 851.4 L467.0 850.7 L469.4 850.0 L471.8 849.3 L474.2 848.5 L476.5 847.8 L478.9 847.0 L481.3 846.3 L483.6 845.5 L486.0 844.7 L488.4 843.9 L490.7 843.0 L493.1 842.2 L495.4 841.4 L497.7 840.5 L500.1 839.6 L502.4 838.7 L504.7 837.9 L507.1 836.9 L509.4 836.0 L511.7 835.1 L514.0 834.1 L516.3 833.2 L518.6 832.2 L520.9 831.2 L523.2 830.3 L525.5 829.3 L527.8 828.3 L530.1 827.2 L532.4 826.2 L534.7 825.2 L536.9 824.2 L539.2 823.1 L541.5 822.1 L543.8 821.0 L546.0 820.0 L548.3 818.9 L550.6 817.9 L552.9 816.8 L555.1 815.8 L557.4 814.7 L559.7 813.7 L561.9 812.6 L564.2 811.6 L566.5 810.5 L568.7 809.5 L571.0 808.4 L573.3 807.4 L575.5 806.3 L577.8 805.3 L580.1 804.3 L582.4 803.2 L584.6 802.2 L586.9 801.2 L589.2 800.1 L591.4 799.1 L593.7 798.1 L596.0 797.1 L598.3 796.0 L600.5 795.0 L602.8 794.0 L605.1 793.0 L607.4 792.0 L609.7 791.1 L612.0 790.1 L614.3 789.1 L616.6 788.2 L618.9 787.3 L621.2 786.3 L623.5 785.5 L625.8 784.6 L628.1 783.7 L630.5 782.9 L632.8 782.1 L635.2 781.4 L637.6 780.6 L639.9 779.9 L642.3 779.2 L644.7 778.6 L647.2 778.0 L649.6 777.4 L652.0 776.9 L654.5 776.3 L656.9 775.8 L659.4 775.3 L661.8 774.8 L664.3 774.2 L666.7 773.7 L669.1 773.1 L671.6 772.6 L674.0 772.0 L676.4 771.3 L678.8 770.7 L681.2 769.9 L683.5 769.2 L685.9 768.4 L688.2 767.5 L690.5 766.6 L692.8 765.7 L695.1 764.8 L697.4 763.8 L699.7 762.8 L701.9 761.8 L704.2 760.7 L706.4 759.7 L708.7 758.6 L710.9 757.6 L713.2 756.5 L715.4 755.4 L717.7 754.3 L719.9 753.2 L722.2 752.1 L724.4 751.0 L726.6 749.9 L728.9 748.8 L731.1 747.7 L733.4 746.6 L735.6 745.5 L737.8 744.4 L740.1 743.3 L742.3 742.2 L744.6 741.1 L746.8 740.0 L749.1 738.9 L751.3 737.8 L753.5 736.7 L755.8 735.6 L758.0 734.6 L760.3 733.5 L762.5 732.4 L764.8 731.3 L767.0 730.2 L769.3 729.1 L771.5 728.1 L773.8 727.0 L776.0 725.9 L778.3 724.9 L780.6 723.8 L782.8 722.8 L785.1 721.7 L787.4 720.7 L789.6 719.7 L791.9 718.6 L794.2 717.6 L796.5 716.6 L798.8 715.6 L801.1 714.7 L803.4 713.7 L805.7 712.7 L808.0 711.8 L810.3 710.8 L812.6 709.9 L814.9 709.0 L817.3 708.1 L819.6 707.2 L821.9 706.3 L824.3 705.4 L826.6 704.5 L829.0 703.7 L831.3 702.8 L833.7 702.0 L836.0 701.2 L838.4 700.4 L840.7 699.6 L843.1 698.8 L845.5 698.0 L847.9 697.2 L850.2 696.5 L852.6 695.7 L855.0 695.0 L857.4 694.3 L859.8 693.5 L862.2 692.8 L864.6 692.1 L867.0 691.4 L869.4 690.7 L871.8 690.0 L874.2 689.3 L876.6 688.6 L879.0 688.0 L881.4 687.3 L883.8 686.6 L886.2 685.9 L888.6 685.2 L891.0 684.6 L893.4 683.9 L895.8 683.2 L898.2 682.5 L900.6 681.9 L903.0 681.2 L905.4 680.5 L907.9 679.8 L910.3 679.1 L912.7 678.4 L915.1 677.7 L917.5 677.0 L919.9 676.3 L922.2 675.6 L924.6 674.9 L927.0 674.2 L929.4 673.4 L931.8 672.7 L934.2 672.0 L936.6 671.2 L939.0 670.5 L941.3 669.7 L943.7 669.0 L946.1 668.2 L948.5 667.4 L950.8 666.7 L953.2 665.9 L955.6 665.1 L958.0 664.3 L960.3 663.6 L962.7 662.8 L965.1 662.0 L967.5 661.3 L969.8 660.5 L972.2 659.7 L974.6 659.0 L977.0 658.2 L979.4 657.4 L981.7 656.7 L984.1 655.9 L986.5 655.2 L988.9 654.4 L991.3 653.7 L993.7 653.0 L996.0 652.2 L998.4 651.5 L1000.8 650.8 L1003.2 650.1 L1005.6 649.4 L1008.0 648.7 L1010.4 648.0 L1012.8 647.3 L1015.2 646.7 L1017.6 646.0 L1020.0 645.3 L1022.4 644.6 L1024.9 644.0 L1027.3 643.3 L1029.7 642.6 L1032.1 641.9 L1034.5 641.2 L1036.9 640.5 L1039.2 639.8 L1041.6 639.1 L1044.0 638.3 L1046.4 637.6 L1048.8 636.8 L1051.2 636.0 L1053.5 635.2 L1055.9 634.4 L1058.2 633.6 L1060.6 632.8 L1062.9 631.9 L1065.3 631.0 L1067.6 630.2 L1070.0 629.3 L1072.3 628.4 L1074.7 627.6 L1077.0 626.7 L1079.3 625.8 L1081.7 625.0 L1084.0 624.1 L1086.4 623.3 L1088.7 622.4 L1091.1 621.6 L1093.5 620.8 L1095.8 620.0 L1098.2 619.2 L1100.6 618.4 L1102.9 617.6 L1105.3 616.9 L1107.7 616.2 L1110.1 615.4 L1112.5 614.7 L1114.9 614.1 L1117.3 613.4 L1119.7 612.7 L1122.1 612.0 L1124.5 611.4 L1127.0 610.7 L1129.4 610.1 L1131.8 609.4 L1134.2 608.8 L1136.6 608.2 L1139.0 607.5 L1141.5 606.9 L1143.9 606.2 L1146.3 605.6 L1148.7 604.9 L1151.1 604.3 L1153.5 603.6 L1155.9 602.9 L1158.3 602.2 L1160.7 601.5 L1163.1 600.8 L1165.5 600.1 L1167.9 599.4 L1170.3 598.6 L1172.6 597.9 L1175.0 597.1 L1177.4 596.3 L1179.7 595.5 L1182.1 594.7 L1184.5 593.9 L1186.8 593.1 L1189.2 592.3 L1191.5 591.5 L1193.9 590.6 L1196.3 589.8 L1198.6 589.0 L1201.0 588.2 L1203.3 587.3 L1205.7 586.5 L1208.1 585.7 L1210.4 584.9 L1212.8 584.1 L1215.1 583.3 L1217.5 582.5 L1219.9 581.7 L1222.2 580.9 L1224.6 580.1 L1227.0 579.3 L1229.4 578.5 L1231.7 577.7 L1234.1 577.0 L1236.5 576.2 L1238.9 575.4 L1241.2 574.7 L1243.6 573.9 L1246.0 573.1 L1248.4 572.4 L1250.7 571.6 L1253.1 570.9 L1255.5 570.1 L1257.9 569.3 L1260.3 568.6 L1262.7 567.9 L1265.0 567.1 L1267.4 566.4 L1269.8 565.6 L1272.2 564.9 L1274.6 564.2 L1277.0 563.4 L1279.4 562.7 L1281.8 562.0 L1284.1 561.3 L1286.5 560.5 L1288.9 559.8 L1291.3 559.1 L1293.7 558.4 L1296.1 557.7 L1298.5 557.0 L1300.9 556.3 L1303.3 555.6 L1305.7 554.9 L1308.1 554.2 L1310.5 553.5 L1312.9 552.8 L1315.3 552.1 L1317.7 551.4 L1320.1 550.7 L1322.5 550.0 L1324.9 549.3 L1327.3 548.6 L1329.7 548.0 L1332.1 547.3 L1334.5 546.6 L1336.9 545.9 L1339.3 545.3 L1341.7 544.6 L1344.1 543.9 L1346.5 543.3 L1348.9 542.6 L1351.4 542.0 L1353.8 541.3 L1356.2 540.7 L1358.6 540.0 L1361.0 539.4 L1363.4 538.7 L1365.8 538.1 L1368.2 537.4 L1370.7 536.8 L1373.1 536.2 L1375.5 535.6 L1377.9 534.9 L1380.3 534.3 L1382.8 533.7 L1385.2 533.1 L1387.6 532.5 L1390.0 531.9 L1392.5 531.3 L1394.9 530.7 L1397.3 530.1 L1399.7 529.6 L1402.2 529.0 L1404.6 528.4 L1407.0 527.9 L1409.5 527.3 L1411.9 526.8 L1414.4 526.3 L1416.8 525.7 L1419.2 525.2 L1421.7 524.7 L1424.1 524.2 L1426.6 523.7 L1429.0 523.2 L1431.5 522.8 L1433.9 522.3 L1436.4 521.9 L1438.9 521.4 L1441.3 521.0 L1443.8 520.6 L1446.2 520.2 L1448.7 519.8 L1451.2 519.3 L1453.6 518.9 L1456.1 518.5 L1458.6 518.1 L1461.0 517.7 L1463.5 517.3 L1466.0 516.9 L1468.4 516.5 L1470.9 516.0 L1473.3 515.6 L1475.8 515.1 L1478.2 514.6 L1480.7 514.1 L1483.1 513.6 L1485.6 513.1 L1488.0 512.5 L1490.5 512.0 L1492.9 511.5 L1495.3 510.9 L1497.8 510.4 L1500.2 509.8 L1502.7 509.3 L1505.1 508.8 L1507.5 508.2 L1510.0 507.7 L1512.4 507.2 L1514.9 506.7 L1517.3 506.2 L1519.8 505.7 L1522.2 505.3 L1524.7 504.8 L1527.1 504.4 L1529.6 504.0 L1532.1 503.6 L1534.5 503.3 L1537.0 502.9 L1539.5 502.6 L1542.0 502.3 L1544.4 501.9 L1546.9 501.7 L1549.4 501.4 L1551.9 501.1 L1554.4 500.9 L1556.8 500.7 L1559.3 500.5 L1561.8 500.3 L1564.3 500.1 L1566.8 499.9 L1569.3 499.7 L1571.8 499.5 L1574.3 499.3 L1576.8 499.2 L1579.3 499.0 L1581.8 498.8 L1584.3 498.6 L1586.8 498.3 L1589.3 498.1 L1591.7 497.9 L1594.2 497.6 L1596.7 497.3" stroke="#2ca02c"/>
</g>
<g stroke="#000" stroke-opacity="0.85" stroke-width="4.33" fill="none">
<line x1="235.7" y1="28.94" x2="235.7" y2="1063.76"/>
<line x1="1596.3" y1="28.94" x2="1596.3" y2="1063.76"/>
<line x1="233.53" y1="31.1" x2="1598.46" y2="31.1"/>
<line x1="233.53" y1="1061.6" x2="1598.46" y2="1061.6"/>
<line x1="235.50" y1="1061.6" x2="235.50" y2="1079.50"/>
<line x1="537.60" y1="1061.6" x2="537.60" y2="1079.50"/>
<line x1="841.60" y1="1061.6" x2="841.60" y2="1079.50"/>
<line x1="1143.60" y1="1061.6" x2="1143.60" y2="1079.50"/>
<line x1="1445.60" y1="1061.6" x2="1445.60" y2="1079.50"/>
<line x1="217.80" y1="1061.60" x2="235.7" y2="1061.60"/>
<line x1="217.80" y1="848.40" x2="235.7" y2="848.40"/>
<line x1="217.80" y1="632.10" x2="235.7" y2="632.10"/>
<line x1="217.80" y1="416.10" x2="235.7" y2="416.10"/>
<line x1="217.80" y1="202.80" x2="235.7" y2="202.80"/>
</g>
<g font-size="54.2" fill="#000" stroke="#fff" stroke-width="0.45">
<text transform="translate(235.50 1141.1) scale(1 1.015)" text-anchor="middle">400</text>
<text transform="translate(537.60 1141.1) scale(1 1.015)" text-anchor="middle">500</text>
<text transform="translate(841.60 1141.1) scale(1 1.015)" text-anchor="middle">600</text>
<text transform="translate(1143.60 1141.1) scale(1 1.015)" text-anchor="middle">700</text>
<text transform="translate(1445.60 1141.1) scale(1 1.015)" text-anchor="middle">800</text>
<text transform="translate(197.3 1081.10) scale(1 1.015)" text-anchor="end">0<tspan dx="-1.3">.0</tspan></text>
<text transform="translate(197.3 867.90) scale(1 1.015)" text-anchor="end">0<tspan dx="-1.3">.1</tspan></text>
<text transform="translate(197.3 651.60) scale(1 1.015)" text-anchor="end">0<tspan dx="-1.3">.2</tspan></text>
<text transform="translate(197.3 435.60) scale(1 1.015)" text-anchor="end">0<tspan dx="-1.3">.3</tspan></text>
<text transform="translate(197.3 222.30) scale(1 1.015)" text-anchor="end">0<tspan dx="-1.3">.4</tspan></text>
<text transform="translate(916.00 1215.0) scale(1 1.02)" text-anchor="middle">Wavelength / nm</text>
<text transform="translate(76.3 548.35) rotate(-90) scale(1 1.02)" text-anchor="middle">Reflectance / Transmittance</text>
<text transform="translate(435.5 122.00) scale(1 1.02)">Leaf reflectance</text>
<text transform="translate(435.5 200.00) scale(1 1.02)">Leaf transmittance</text>
<text transform="translate(435.5 280.40) scale(1 1.02)">Soil reflectance</text>
</g>
<line x1="282.3" y1="102.6" x2="396.9" y2="102.6" stroke="#1f77b4" stroke-width="8.1"/>
<line x1="282.3" y1="183.3" x2="396.9" y2="183.3" stroke="#ff7f0e" stroke-width="8.1"/>
<line x1="282.3" y1="261.2" x2="396.9" y2="261.2" stroke="#2ca02c" stroke-width="8.1"/>
</g></svg>
</body></html>
